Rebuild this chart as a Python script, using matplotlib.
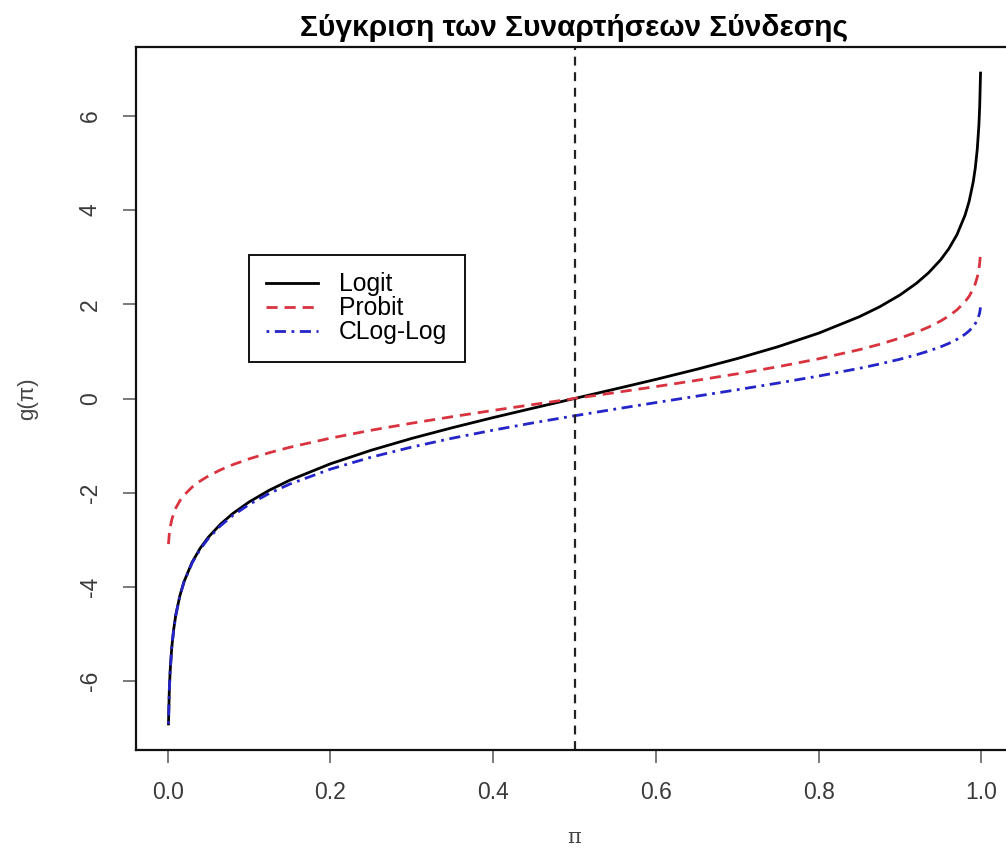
import matplotlib
matplotlib.use("Agg")
import matplotlib.pyplot as plt

plt.rcParams['font.family'] = ['Liberation Sans', 'DejaVu Sans']

# pi values and the link-function values
pi_vals = [0.001, 0.002, 0.003, 0.005, 0.0075, 0.01, 0.015, 0.02, 0.03, 0.04,
           0.05, 0.065, 0.08, 0.1, 0.125, 0.15, 0.2, 0.25, 0.3, 0.35, 0.4,
           0.45, 0.5, 0.55, 0.6, 0.65, 0.7, 0.75, 0.8, 0.85, 0.875, 0.9,
           0.92, 0.935, 0.95, 0.96, 0.97, 0.98, 0.985, 0.99, 0.9925, 0.995,
           0.997, 0.998, 0.999]

logit_vals = [-6.907, -6.213, -5.806, -5.293, -4.885, -4.595, -4.185, -3.892,
              -3.476, -3.178, -2.944, -2.666, -2.442, -2.197, -1.946, -1.735,
              -1.386, -1.099, -0.847, -0.619, -0.405, -0.201, 0.0, 0.201,
              0.405, 0.619, 0.847, 1.099, 1.386, 1.735, 1.946, 2.197, 2.442,
              2.666, 2.944, 3.178, 3.476, 3.892, 4.185, 4.595, 4.885, 5.293,
              5.806, 6.213, 6.907]

probit_vals = [-3.090, -2.878, -2.748, -2.576, -2.432, -2.326, -2.170, -2.054,
               -1.881, -1.751, -1.645, -1.514, -1.405, -1.282, -1.150, -1.036,
               -0.842, -0.674, -0.524, -0.385, -0.253, -0.126, 0.0, 0.126,
               0.253, 0.385, 0.524, 0.674, 0.842, 1.036, 1.150, 1.282, 1.405,
               1.514, 1.645, 1.751, 1.881, 2.054, 2.170, 2.326, 2.432, 2.576,
               2.748, 2.878, 3.090]

cloglog_vals = [-6.907, -6.214, -5.808, -5.296, -4.889, -4.600, -4.192, -3.902,
                -3.491, -3.199, -2.970, -2.700, -2.484, -2.250, -2.013, -1.817,
                -1.500, -1.246, -1.031, -0.842, -0.672, -0.514, -0.367, -0.225,
                -0.087, 0.049, 0.186, 0.327, 0.476, 0.640, 0.732, 0.834, 0.927,
                1.006, 1.097, 1.169, 1.255, 1.364, 1.435, 1.527, 1.588, 1.667,
                1.759, 1.827, 1.933]

x_ticks = [0.0, 0.2, 0.4, 0.6, 0.8, 1.0]
y_ticks = [-6, -4, -2, 0, 2, 4, 6]

fig = plt.figure(figsize=(10.06, 8.51), dpi=100)
# axes box; right edge runs past the image like in the reference crop
ax = fig.add_axes([136 / 1006, 101 / 851, 877 / 1006, 703 / 851])

ax.plot(pi_vals, logit_vals, color='black', linewidth=2.0, label='Logit')
ax.plot(pi_vals, probit_vals, color='#d8333f', linewidth=2.0,
        linestyle=(0, (4, 2.5)), label='Probit')
ax.plot(pi_vals, cloglog_vals, color='#2424c8', linewidth=2.0,
        linestyle=(0, (1, 2, 4, 2)), label='CLog-Log')
ax.axvline(0.5, color='#222222', linewidth=1.6, linestyle=(0, (4, 3)))

ax.set_xlim(-0.0389, 1.0389)
ax.set_ylim(-7.46, 7.46)
ax.set_xticks(x_ticks)
ax.set_xticklabels([f'{v:.1f}' for v in x_ticks])
ax.set_yticks(y_ticks)
ax.set_yticklabels([str(v) for v in y_ticks], rotation=90, va='center')

for s in ax.spines.values():
    s.set_linewidth(1.6)
    s.set_color('#111111')

ax.tick_params(axis='both', direction='out', length=9.5, width=1.1,
               color='#555555', labelcolor='#3a3a3a', labelsize=16.5)
ax.tick_params(axis='x', pad=13)
ax.tick_params(axis='y', pad=15)

ax.set_title('Σύγκριση των Συναρτήσεων Σύνδεσης', fontsize=21.5,
             fontweight='bold', pad=8)
ax.set_xlabel('π', fontsize=15, color='#444444', family='DejaVu Serif')
ax.set_ylabel('g(π)', fontsize=16, color='#444444')
ax.xaxis.set_label_coords(0.5, -0.111)
ax.yaxis.set_label_coords(-0.112, 0.5)

leg = ax.legend(loc='upper left', bbox_to_anchor=(0.1288, 0.704),
                fontsize=17.8, frameon=True, fancybox=False, framealpha=1,
                edgecolor='#111111', handlelength=2.1, labelspacing=0.0,
                borderpad=0.7, handletextpad=0.85, borderaxespad=0)
leg.get_frame().set_linewidth(1.4)

fig.savefig('out.png', dpi=100)
